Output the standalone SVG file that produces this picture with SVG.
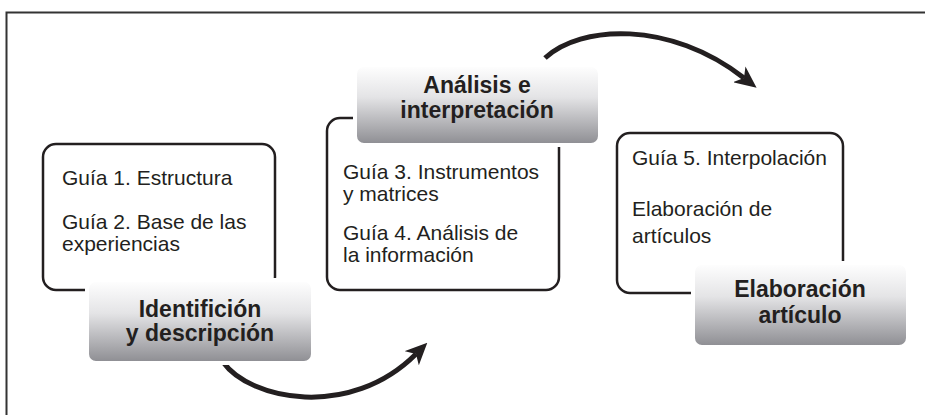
<svg xmlns="http://www.w3.org/2000/svg" width="925" height="415" viewBox="0 0 925 415">
<style>
.box{fill:#fff;stroke:#231f20;stroke-width:2.5}
.lab{fill:url(#g);stroke:#fff;stroke-width:4}
.t{font-family:"Liberation Sans",Arial,sans-serif;font-size:21px;fill:#231f20}
.b{font-family:"Liberation Sans",Arial,sans-serif;font-size:23px;font-weight:bold;fill:#231f20;text-anchor:middle}
.arr{fill:none;stroke:#231f20;stroke-width:5}
</style>
<defs>
<linearGradient id="g" x1="0" y1="0" x2="0" y2="1">
<stop offset="0" stop-color="#ffffff"/>
<stop offset="0.4" stop-color="#e4e4e6"/>
<stop offset="1" stop-color="#8c8c91"/>
</linearGradient>
<marker id="ah" markerUnits="userSpaceOnUse" viewBox="0 0 22 20" markerWidth="22" markerHeight="20" refX="6" refY="10" orient="auto">
<path d="M0,0 L22,10 L0,20 L6,10 z" fill="#231f20"/>
</marker>
</defs>
<rect width="925" height="415" fill="#fff"/>
<path d="M6.5,415 V12.5 H925" fill="none" stroke="#333" stroke-width="2"/>
<g id="connectors">
<path class="arr" d="M545,58 C580,25 670,20 744,78" marker-end="url(#ah)"/>
<path class="arr" d="M223,362 C250,400 350,420 416,354" marker-end="url(#ah)"/>
</g>
<g id="box1">
<rect class="box" x="43" y="144" width="232" height="146" rx="13"/>
<text class="t" x="62" y="185">Guía 1. Estructura</text>
<text class="t" x="62" y="229">Guía 2. Base de las</text>
<text class="t" x="62" y="251">experiencias</text>
</g>
<g id="label1">
<rect class="lab" x="87" y="280" width="226" height="83" rx="9"/>
<text class="b" x="200" y="317">Identifición</text>
<text class="b" x="200" y="341">y descripción</text>
</g>
<g id="box2">
<rect class="box" x="327" y="118" width="232" height="172" rx="13"/>
<text class="t" x="343" y="179">Guía 3. Instrumentos</text>
<text class="t" x="343" y="201">y matrices</text>
<text class="t" x="343" y="240">Guía 4. Análisis de</text>
<text class="t" x="343" y="262">la información</text>
</g>
<g id="label2">
<rect class="lab" x="355" y="65" width="245" height="80" rx="9"/>
<text class="b" x="477" y="93">Análisis e</text>
<text class="b" x="477" y="118">interpretación</text>
</g>
<g id="box3">
<rect class="box" x="617" y="133" width="226" height="160" rx="13"/>
<text class="t" x="632" y="165">Guía 5. Interpolación</text>
<text class="t" x="632" y="216">Elaboración de</text>
<text class="t" x="632" y="243">artículos</text>
</g>
<g id="label3">
<rect class="lab" x="693" y="263" width="215" height="84" rx="9"/>
<text class="b" x="800" y="297">Elaboración</text>
<text class="b" x="800" y="323">artículo</text>
</g>
</svg>
